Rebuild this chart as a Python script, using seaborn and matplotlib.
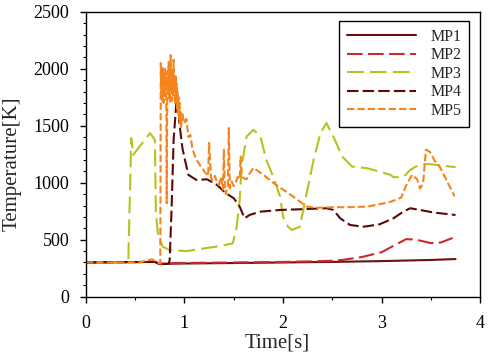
import matplotlib
matplotlib.use('Agg')
import matplotlib.pyplot as plt
import seaborn as sns
from matplotlib.ticker import MultipleLocator

################################################################################
# values

mp1_t = [0, 0.7, 0.75, 0.9, 1.5, 2.0, 2.5, 3.0, 3.5, 3.75]
mp1_T = [300, 305, 285, 290, 295, 300, 305, 312, 322, 330]

mp2_t = [0, 0.7, 0.75, 0.9, 1.5, 2.0, 2.3, 2.5, 2.6, 2.8, 3.0, 3.15, 3.25, 3.35, 3.5, 3.6, 3.72]
mp2_T = [300, 305, 290, 295, 300, 305, 310, 315, 322, 348, 390, 460, 505, 500, 470, 475, 515]

mp3_t = [0, 0.43, 0.46, 0.48, 0.65, 0.70, 0.71, 0.73, 0.75, 0.78, 0.85, 1.02, 1.36, 1.49,
         1.53, 1.56, 1.58, 1.63, 1.70, 1.77, 1.83, 1.90, 1.97, 2.00, 2.05, 2.09, 2.17, 2.24,
         2.31, 2.38, 2.44, 2.51, 2.60, 2.70, 2.85, 2.98, 3.09, 3.12, 3.22, 3.29, 3.39, 3.49,
         3.63, 3.75]
mp3_T = [300, 300, 1392, 1245, 1436, 1377, 735, 560, 497, 438, 409, 400, 444, 468,
         614, 849, 1142, 1406, 1465, 1406, 1201, 1054, 878, 702, 614, 585, 614, 908,
         1201, 1436, 1524, 1406, 1230, 1142, 1128, 1098, 1069, 1049, 1049, 1113, 1163, 1163,
         1148, 1137]

mp4_t = [0, 0.7, 0.75, 0.84, 0.85, 0.87, 0.89, 0.92, 0.93, 0.95, 0.98, 1.005, 1.04, 1.12,
         1.23, 1.33, 1.42, 1.50, 1.56, 1.61, 1.66, 1.77, 1.97, 2.17, 2.44, 2.51, 2.58, 2.68,
         2.82, 2.98, 3.12, 3.22, 3.29, 3.39, 3.53, 3.75]
mp4_T = [300, 305, 285, 290, 321, 790, 1377, 1729, 1753, 1510, 1300, 1200, 1069, 1025,
         1030, 981, 908, 864, 790, 688, 717, 746, 761, 767, 776, 761, 688, 629,
         614, 635, 688, 746, 776, 761, 738, 717]

mp5_t = [0, 0.55, 0.6, 0.67, 0.72, 0.75,
         0.755, 0.76, 0.765, 0.77, 0.775, 0.78, 0.785, 0.79, 0.795, 0.80, 0.805, 0.81, 0.815,
         0.82, 0.825, 0.83, 0.835, 0.84, 0.845, 0.85, 0.855, 0.86, 0.865, 0.87, 0.875, 0.88,
         0.885, 0.89, 0.895, 0.90, 0.905, 0.91, 0.915, 0.92, 0.925, 0.93, 0.935, 0.94, 0.945,
         0.95, 0.955, 0.96, 0.965, 0.97,
         0.98, 1.0, 1.02, 1.04, 1.06, 1.08, 1.10, 1.12, 1.14, 1.16, 1.18, 1.20, 1.22, 1.24,
         1.25, 1.27, 1.29, 1.31, 1.33, 1.35, 1.37, 1.39, 1.40, 1.41, 1.42, 1.44, 1.45, 1.46,
         1.48, 1.50, 1.52, 1.54, 1.56, 1.57, 1.58, 1.60, 1.63,
         1.66, 1.70, 1.75, 1.80, 1.90, 2.00, 2.10, 2.24, 2.35, 2.5, 2.65, 2.85, 3.0, 3.1,
         3.2, 3.24, 3.27, 3.31, 3.36, 3.39, 3.42, 3.45, 3.49, 3.54, 3.59, 3.66, 3.74]
mp5_T = [300, 300, 315, 327, 306, 290,
         310, 2050, 1780, 1980, 1720, 2020, 1850, 1700, 1950, 1760, 2000, 1810, 1900,
         820, 1750, 1980, 1800, 2060, 1740, 1920, 1700, 2120, 1830, 1990, 1720, 1950,
         1760, 2080, 1800, 1900, 1690, 1950, 1780, 1870, 1650, 1800, 1600, 1750, 1560,
         1700, 1520, 1620, 1480, 1560,
         1600, 1520, 1560, 1400, 1420, 1300, 1250, 1200, 1180, 1150, 1130, 1100, 1080, 1060,
         1350, 1040, 1020, 1060, 1000, 980, 1050, 940, 1290, 960, 900, 980, 1480, 950,
         1010, 970, 1000, 1050, 1030, 1230, 1060, 1040, 1030,
         1080, 1130, 1100, 1070, 1000, 940, 880, 790, 780, 785, 785, 790, 815, 835,
         870, 960, 1010, 1070, 1030, 950, 990, 1290, 1270, 1190, 1140, 1020, 880]

################################################################################

sns.set_style('ticks')
plt.rcParams['font.family'] = ['Liberation Serif', 'DejaVu Serif']

fig = plt.figure(figsize = (4.88, 3.6), dpi = 100)
ax = fig.add_axes([0.176, 0.176, 0.808, 0.791])

series = [
    ('MP1', mp1_t, mp1_T, '#6b0f0f', None),
    ('MP2', mp2_t, mp2_T, '#cc2a2a', (7.5, 2.6)),
    ('MP3', mp3_t, mp3_T, '#b9c21c', (8, 3)),
    ('MP4', mp4_t, mp4_T, '#5e0808', (5.5, 2)),
    ('MP5', mp5_t, mp5_T, '#f5841c', (3.5, 1.5)),
]

for name, t, T, color, dash in series:
    line = sns.lineplot(x = t, y = T, ax = ax, sort = False, estimator = None,
                        color = color, linewidth = 1.5, label = name)
    if dash is not None:
        line.lines[-1].set_dashes(dash)

ax.set_xlim(0, 4)
ax.set_ylim(0, 2500)
ax.xaxis.set_major_locator(MultipleLocator(1))
ax.xaxis.set_minor_locator(MultipleLocator(0.5))
ax.yaxis.set_major_locator(MultipleLocator(500))
ax.yaxis.set_minor_locator(MultipleLocator(100))

ax.tick_params(which = 'both', direction = 'out', colors = 'black', labelsize = 13,
               top = False, right = False)
ax.tick_params(which = 'major', length = 4, width = 1)
ax.tick_params(which = 'minor', length = 2.5, width = 0.8)
ax.tick_params(axis = 'x', pad = 9)
ax.tick_params(axis = 'y', pad = 8)

for side in ['top', 'right', 'bottom', 'left']:
    ax.spines[side].set_visible(True)
    ax.spines[side].set_color('black')
    ax.spines[side].set_linewidth(1)

ax.set_xlabel('Time[s]', fontsize = 15)
ax.set_ylabel('Temperature[K]', fontsize = 15)
ax.xaxis.set_label_coords(0.485, -0.128)
ax.yaxis.set_label_coords(-0.162, 0.467)

leg = ax.legend(loc = 'upper right', bbox_to_anchor = (0.972, 0.968), fontsize = 11.5,
                handlelength = 4.3, handletextpad = 0.9, labelspacing = 0.15,
                borderpad = 0.5, borderaxespad = 0, frameon = True, fancybox = False)
leg.get_frame().set_edgecolor('black')
leg.get_frame().set_linewidth(1)
leg.get_frame().set_alpha(1)

fig.savefig('out.png', dpi = 100)
